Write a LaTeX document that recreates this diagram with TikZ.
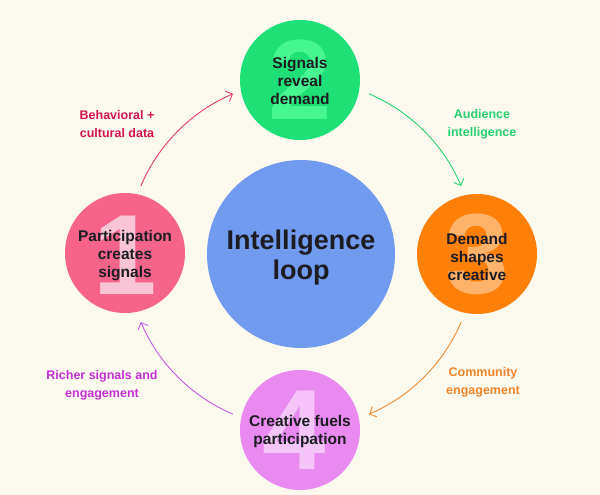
\documentclass[tikz,border=0pt]{standalone}
\usepackage{fontspec}
\setmainfont{Liberation Sans}
\usetikzlibrary{arrows.meta,calc}
\definecolor{bgc}{RGB}{252,249,239}
\definecolor{blueC}{RGB}{112,155,238}
\definecolor{greenC}{RGB}{30,224,118}
\definecolor{greenD}{RGB}{70,246,145}
\definecolor{pinkC}{RGB}{246,100,140}
\definecolor{pinkD}{RGB}{250,196,215}
\definecolor{orangeC}{RGB}{255,128,8}
\definecolor{orangeD}{RGB}{255,178,105}
\definecolor{purpleC}{RGB}{232,138,240}
\definecolor{purpleD}{RGB}{245,196,248}
\definecolor{ink}{RGB}{28,28,34}
\definecolor{lblPink}{RGB}{210,20,80}
\definecolor{lblGreen}{RGB}{40,208,110}
\definecolor{lblOrange}{RGB}{240,132,40}
\definecolor{lblPurple}{RGB}{196,48,210}
\definecolor{arPink}{RGB}{228,60,105}
\definecolor{arGreen}{RGB}{40,210,110}
\definecolor{arOrange}{RGB}{240,140,50}
\definecolor{arPurple}{RGB}{200,90,222}
\begin{document}
\begin{tikzpicture}[x=1pt,y=1pt,
  sat/.style={circle,minimum size=120pt,inner sep=0pt},
  digit/.style={inner sep=0pt,font=\fontsize{114}{114}\selectfont\bfseries},
  sattext/.style={align=center,text=ink,font=\fontsize{15.5}{18}\selectfont\bfseries},
  lbl/.style={align=center,font=\fontsize{12.5}{18}\selectfont\bfseries},
  loopArrow/.style={line width=0.9pt,-{Straight Barb[length=5.5pt,width=11pt]}}
]
\useasboundingbox (0,0) rectangle (600,495);
\fill[bgc] (0,0) rectangle (600,495);
\coordinate (O) at (301,241);
% central circle
\node[circle,fill=blueC,minimum size=188pt,inner sep=0pt] (loop) at (O) {};
\node[align=center,text=ink,font=\fontsize{27}{30}\selectfont\bfseries] (loopt) at ([yshift=-4pt]O) {Intelligence\\loop};
% satellites
\node[sat,fill=pinkC] (n1) at (125,242) {};
\node[digit,text=pinkD] (d1) at ([yshift=-2pt]n1) {1};
\node[sattext] (t1) at ([yshift=-3pt]n1) {Participation\\creates\\signals};
\node[sat,fill=greenC] (n2) at (300,415) {};
\node[digit,text=greenD] (d2) at (n2) {2};
\node[sattext] (t2) at ([yshift=-1pt]n2) {Signals\\reveal\\demand};
\node[sat,fill=orangeC] (n3) at (477,241) {};
\node[digit,text=orangeD] (d3) at (n3) {3};
\node[sattext] (t3) at ([yshift=-3pt]n3) {Demand\\shapes\\creative};
\node[sat,fill=purpleC] (n4) at (300,65) {};
\node[digit,text=purpleD] (d4) at ([xshift=-6pt]n4) {4};
\node[sattext] (t4) at ([yshift=-1pt]n4) {Creative fuels\\participation};
% arc end points
\coordinate (a1s) at ($(O)+(157:174)$);
\coordinate (a2s) at ($(O)+(67:174)$);
\coordinate (a3s) at ($(O)+(-23:174)$);
\coordinate (a4s) at ($(O)+(-113:174)$);
\draw[loopArrow,arPink] (a1s) arc[start angle=157,end angle=113,radius=174];
\draw[loopArrow,arGreen] (a2s) arc[start angle=67,end angle=23,radius=174];
\draw[loopArrow,arOrange] (a3s) arc[start angle=-23,end angle=-67,radius=174];
\draw[loopArrow,arPurple] (a4s) arc[start angle=-113,end angle=-157,radius=174];
% labels
\node[lbl,text=lblPink] (l1) at (117,371) {Behavioral +\\cultural data};
\node[lbl,text=lblGreen] (l2) at (482,371) {Audience\\intelligence};
\node[lbl,text=lblOrange] (l3) at (483,113) {Community\\engagement};
\node[lbl,text=lblPurple] (l4) at (102,110) {Richer signals and\\engagement};
\end{tikzpicture}
\end{document}
